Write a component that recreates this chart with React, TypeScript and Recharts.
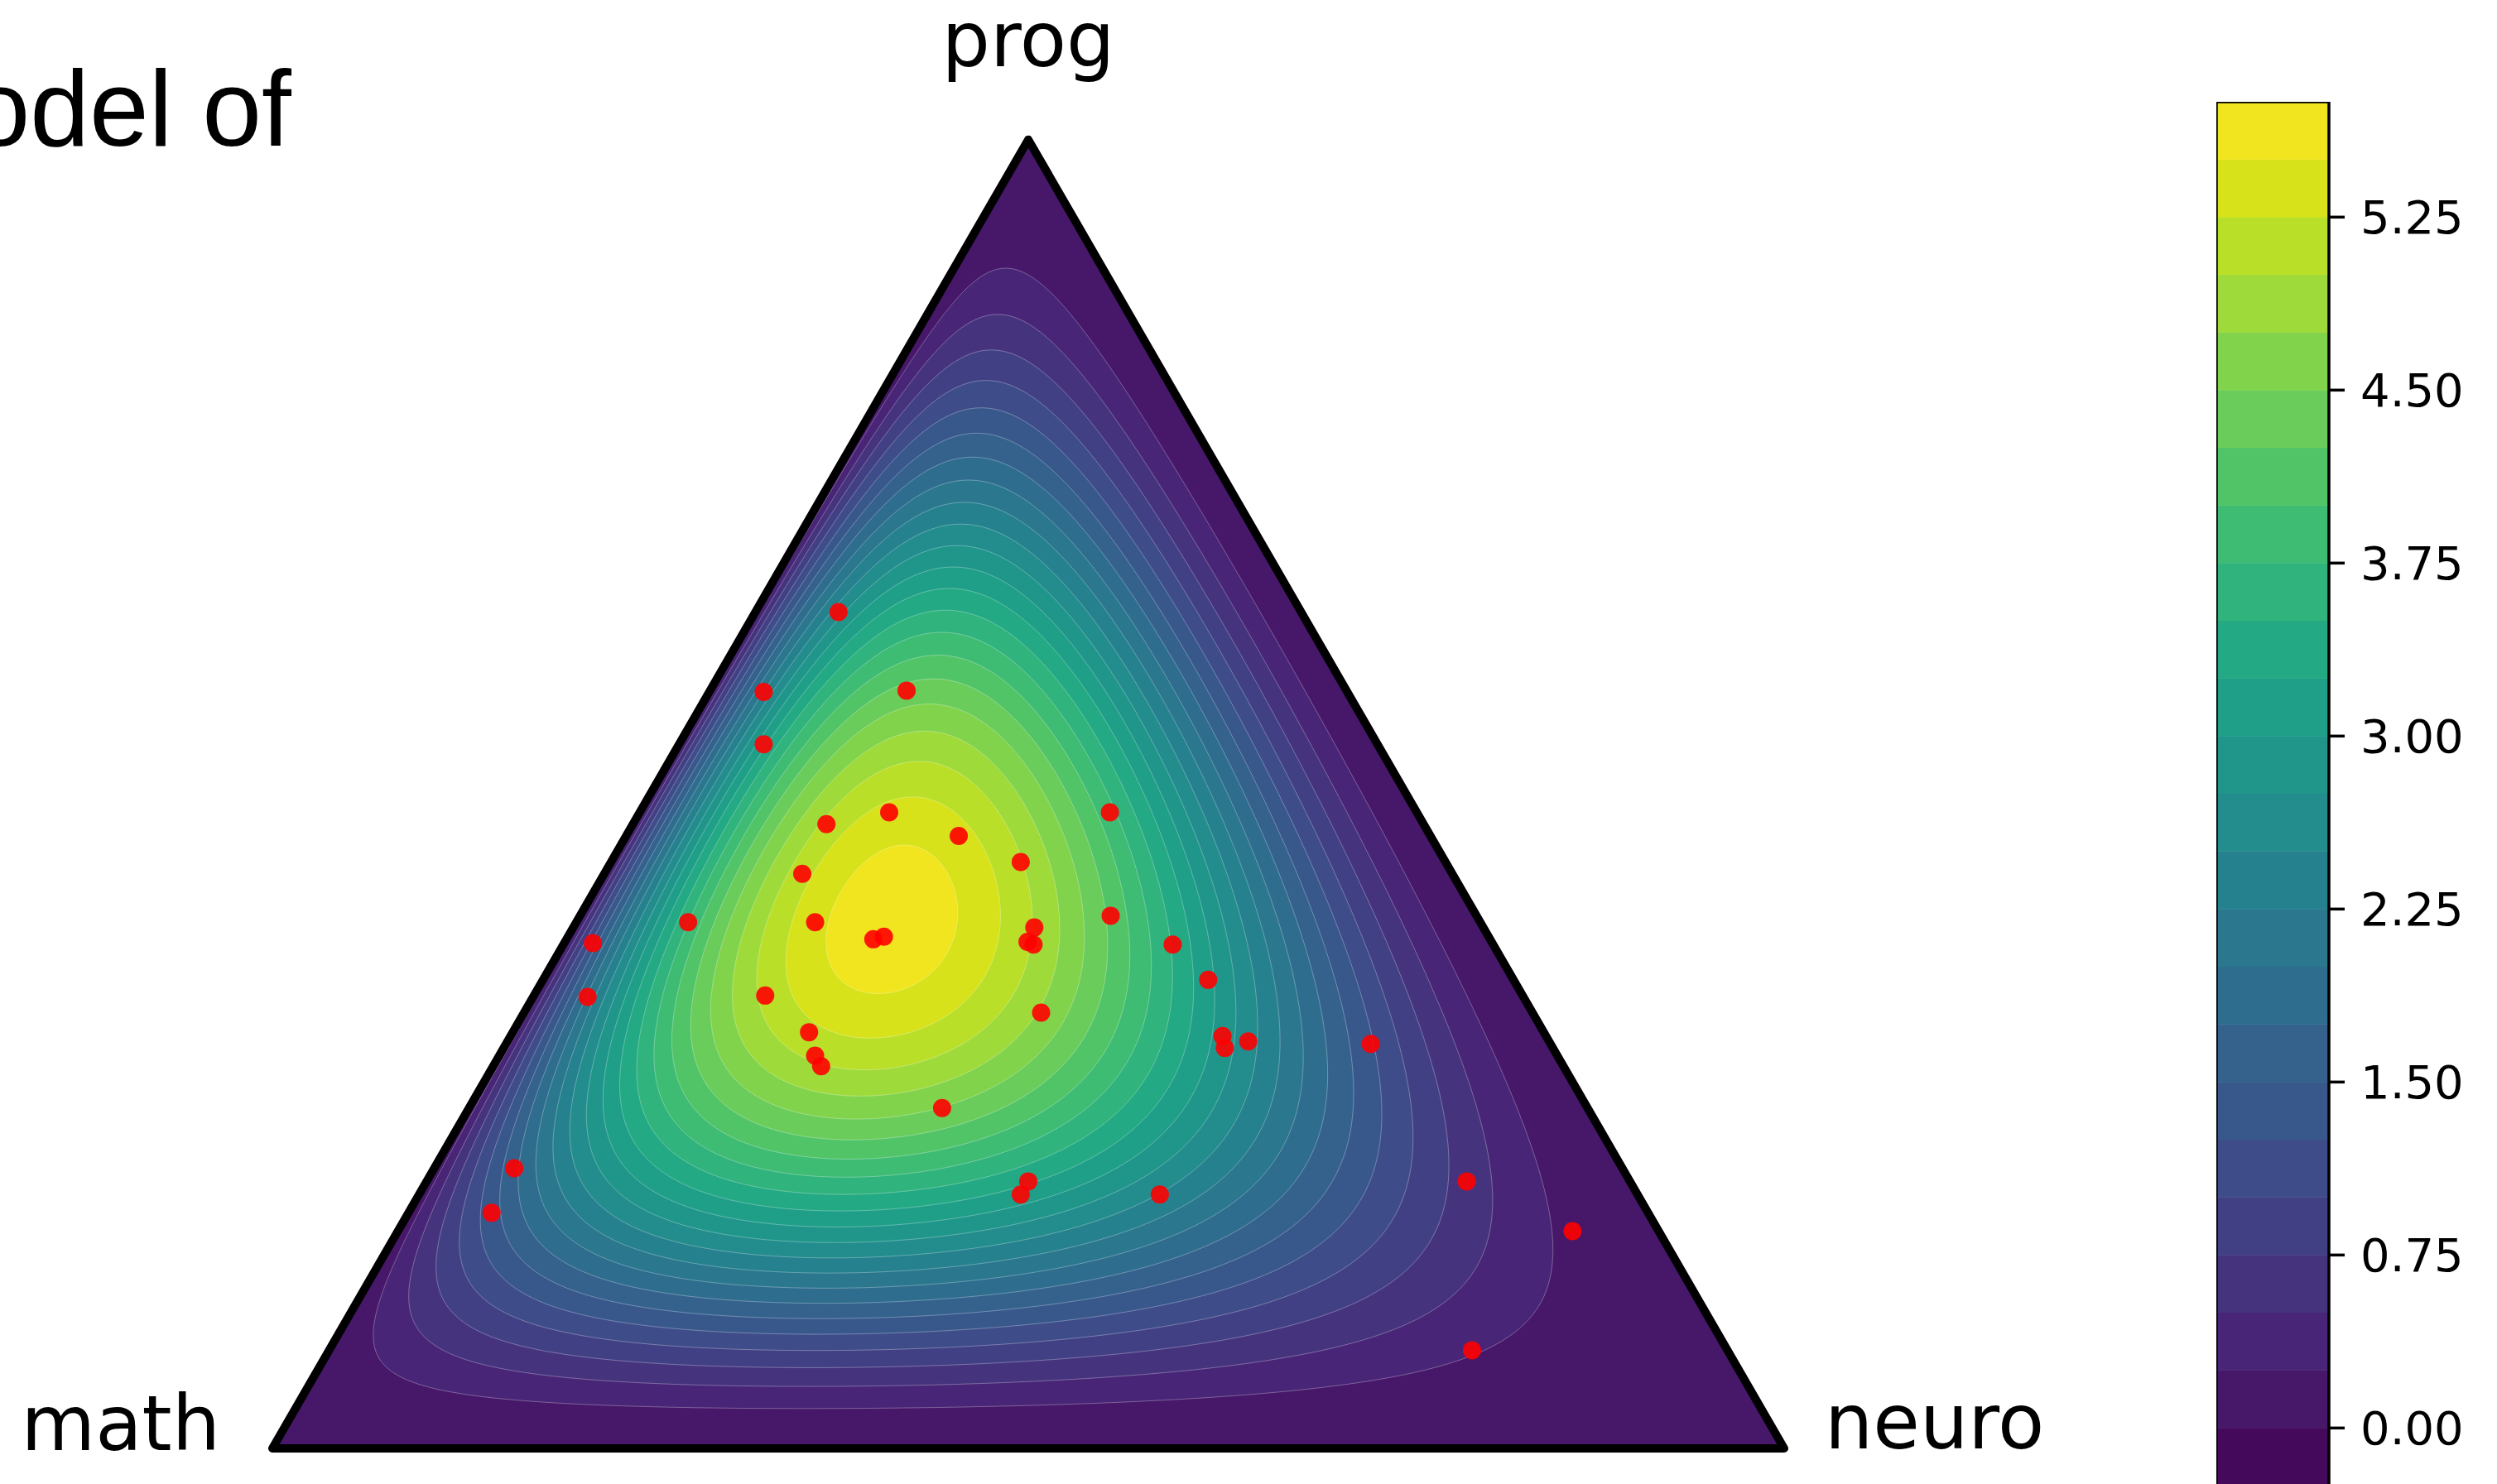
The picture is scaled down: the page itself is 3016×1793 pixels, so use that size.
import React from 'react';
import { ScatterChart, Scatter, XAxis, YAxis, ComposedChart, ReferenceArea, Line } from 'recharts';

// ---------- data ----------
const TITLE_TEXT = 'Model of';
const CORNER_LABELS = { top: 'prog', left: 'math', right: 'neuro' };

// ternary shares of the observed points (math, neuro, prog)
const MATH_SHARE = [0.306, 0.291, 0.386, 0.406, 0.203, 0.349, 0.395, 0.313, 0.281, 0.430, 0.241, 0.524, 0.440, 0.297, 0.307, 0.303, 0.408, 0.401, 0.595, 0.212, 0.203, 0.619, 0.501, 0.325, 0.214, 0.217, 0.199, 0.119, 0.487, 0.492, 0.491, 0.427, 0.733, 0.399, 0.408, 0.316, 0.108, 0.765, 0.057, 0.169];
const NEURO_SHARE = [0.055, 0.130, 0.036, 0.056, 0.311, 0.165, 0.128, 0.220, 0.271, 0.131, 0.351, 0.074, 0.158, 0.305, 0.306, 0.311, 0.203, 0.209, 0.019, 0.403, 0.440, 0.036, 0.153, 0.342, 0.471, 0.477, 0.490, 0.572, 0.196, 0.209, 0.217, 0.313, 0.053, 0.398, 0.398, 0.490, 0.688, 0.055, 0.777, 0.756];
const PROG_SHARE = [0.639, 0.579, 0.578, 0.538, 0.486, 0.486, 0.477, 0.468, 0.448, 0.439, 0.407, 0.402, 0.402, 0.398, 0.387, 0.385, 0.389, 0.391, 0.386, 0.385, 0.358, 0.345, 0.346, 0.333, 0.315, 0.306, 0.311, 0.309, 0.318, 0.300, 0.292, 0.260, 0.214, 0.204, 0.194, 0.194, 0.204, 0.180, 0.166, 0.075];

// Dirichlet concentration of the model (math, neuro, prog)
const ALPHA = [2.614, 1.861, 2.673];

// contour levels and colourbar ticks
const LEVELS = [-0.25, 0, 0.25, 0.5, 0.75, 1, 1.25, 1.5, 1.75, 2, 2.25, 2.5, 2.75, 3, 3.25, 3.5, 3.75, 4, 4.25, 4.5, 4.75, 5, 5.25, 5.5, 5.75];
const CBAR_TICKS = [0, 0.75, 1.5, 2.25, 3, 3.75, 4.5, 5.25];

// ---------- colour map ----------
const VIRIDIS_STOPS: [number, string][] = [
  [0, '#440154'], [0.05, '#471365'], [0.1, '#482475'], [0.1429, '#46327e'], [0.2, '#414487'],
  [0.25, '#3b528b'], [0.2857, '#365c8d'], [0.3, '#355f8d'], [0.375, '#2c728e'], [0.4, '#2a788e'],
  [0.4286, '#277f8e'], [0.5, '#21918c'], [0.5714, '#1fa187'], [0.6, '#22a884'], [0.625, '#28ae80'],
  [0.7, '#44bf70'], [0.7143, '#4ac16d'], [0.75, '#5ec962'], [0.8, '#7ad151'], [0.8571, '#a0da39'],
  [0.875, '#addc30'], [0.9, '#bddf26'], [0.95, '#dfe318'], [1, '#fde725'],
];
function hexToRgb(h: string) {
  return [parseInt(h.slice(1, 3), 16), parseInt(h.slice(3, 5), 16), parseInt(h.slice(5, 7), 16)];
}
function viridis(t: number) {
  for (let i = 0; i < VIRIDIS_STOPS.length - 1; i++) {
    const [t0, c0] = VIRIDIS_STOPS[i];
    const [t1, c1] = VIRIDIS_STOPS[i + 1];
    if (t >= t0 && t <= t1) {
      const f = (t - t0) / (t1 - t0);
      const a = hexToRgb(c0), b = hexToRgb(c1);
      const c = a.map((v, k) => Math.round(v + (b[k] - v) * f));
      return `rgb(${c[0]},${c[1]},${c[2]})`;
    }
  }
  return VIRIDIS_STOPS[VIRIDIS_STOPS.length - 1][1];
}
const NB = LEVELS.length - 1;
const BAND_COLORS = LEVELS.slice(0, NB).map((_, i) => viridis((i + 0.5) / NB));

// ---------- model ----------
const LANCZOS = [0.99999999999980993, 676.5203681218851, -1259.1392167224028, 771.32342877765313, -176.61502916214059, 12.507343278686905, -0.13857109526572012, 9.9843695780195716e-6, 1.5056327351493116e-7];
function lnGamma(z: number): number {
  if (z < 0.5) return Math.log(Math.PI / Math.sin(Math.PI * z)) - lnGamma(1 - z);
  z -= 1;
  let x = LANCZOS[0];
  for (let i = 1; i < 9; i++) x += LANCZOS[i] / (z + i);
  const t = z + 7.5;
  return 0.5 * Math.log(2 * Math.PI) + (z + 0.5) * Math.log(t) - t + Math.log(x);
}
const ASUM = ALPHA[0] + ALPHA[1] + ALPHA[2];
const LOGC = lnGamma(ASUM) - lnGamma(ALPHA[0]) - lnGamma(ALPHA[1]) - lnGamma(ALPHA[2]);
const H = Math.sqrt(3) / 2;

function toCart(math: number, neuro: number, prog: number) {
  return { x: neuro + prog / 2, y: prog * H };
}
function logPdfCart(x: number, y: number) {
  const p = y / H;
  const n = x - p / 2;
  const m = 1 - n - p;
  if (m <= 0 || n <= 0 || p <= 0) return -Infinity;
  return LOGC + (ALPHA[0] - 1) * Math.log(m) + (ALPHA[1] - 1) * Math.log(n) + (ALPHA[2] - 1) * Math.log(p);
}
const MODE = toCart(
  (ALPHA[0] - 1) / (ASUM - 3),
  (ALPHA[1] - 1) / (ASUM - 3),
  (ALPHA[2] - 1) / (ASUM - 3)
);
const LOG_MAX = logPdfCart(MODE.x, MODE.y);

function contour(level: number) {
  const lv = Math.log(level);
  const pts: { x: number; y: number }[] = [];
  const N = 720;
  for (let k = 0; k < N; k++) {
    const th = (2 * Math.PI * k) / N;
    const dx = Math.cos(th), dy = Math.sin(th);
    let lo = 0, hi = 1.3;
    for (let it = 0; it < 46; it++) {
      const mid = (lo + hi) / 2;
      if (logPdfCart(MODE.x + dx * mid, MODE.y + dy * mid) >= lv) lo = mid; else hi = mid;
    }
    pts.push({ x: MODE.x + dx * lo, y: MODE.y + dy * lo });
  }
  return pts;
}

const TRIANGLE = [toCart(1, 0, 0), toCart(0, 1, 0), toCart(0, 0, 1)];
const CONTOURS = LEVELS.map((lv, i) => ({ lv, i }))
  .filter(({ lv, i }) => i >= 2 && i < NB && Math.log(lv) < LOG_MAX)
  .map(({ lv, i }) => ({ level: lv, color: BAND_COLORS[i], pts: contour(lv) }));

const POINTS = MATH_SHARE.map((m, i) => toCart(m, NEURO_SHARE[i], PROG_SHARE[i]));

// ---------- rendering helpers ----------
const NoShape = () => <g />;
const polygonLine = (fill: string, stroke: string, strokeWidth: number, strokeOpacity: number) => (props: any) => {
  const pts = (props.points || []).map((p: any) => `${p.x},${p.y}`).join(' ');
  return (
    <polygon points={pts} fill={fill} stroke={stroke} strokeWidth={strokeWidth}
      strokeOpacity={strokeOpacity} strokeLinejoin="round" />
  );
};
const DotShape = (props: any) => (
  <circle cx={props.cx} cy={props.cy} r={11} fill="#ff0000" fillOpacity={0.9} />
);

const W = 3016;
const HT = 1793;
const PX_PER_UNIT = 1826;
const ORIGIN_X = 329;
const ORIGIN_Y = 1750;

export default function App() {
  const xDomain = [-ORIGIN_X / PX_PER_UNIT, (W - ORIGIN_X) / PX_PER_UNIT];
  const yDomain = [-(HT - ORIGIN_Y) / PX_PER_UNIT, ORIGIN_Y / PX_PER_UNIT];
  const cbarData = [{ x: 0, v: 0 }, { x: 1, v: 0 }];
  return (
    <div style={{ position: 'fixed', left: 0, top: 0, width: W, height: HT, overflow: 'hidden', background: '#fff' }}>
      <div style={{ position: 'absolute', left: 0, top: 0 }}>
        <ScatterChart width={W} height={HT} margin={{ top: 0, right: 0, bottom: 0, left: 0 }}>
          <XAxis type="number" dataKey="x" domain={xDomain} allowDataOverflow hide />
          <YAxis type="number" dataKey="y" domain={yDomain} allowDataOverflow hide />
          <Scatter data={TRIANGLE} shape={NoShape} line={polygonLine(BAND_COLORS[1], 'none', 0, 0)}
            isAnimationActive={false} />
          {CONTOURS.map((c) => (
            <Scatter key={c.level} data={c.pts} shape={NoShape}
              line={polygonLine(c.color, '#ffffff', 1, 0.3)} isAnimationActive={false} />
          ))}
          <Scatter data={TRIANGLE} shape={NoShape} line={polygonLine('none', '#000000', 10, 1)}
            isAnimationActive={false} />
          <Scatter data={POINTS} shape={DotShape} isAnimationActive={false} />
        </ScatterChart>
      </div>
      <div style={{ position: 'absolute', left: 2677, top: 123 }}>
        <ComposedChart width={386} height={1672} data={cbarData} margin={{ top: 0, right: 0, bottom: 0, left: 0 }}>
          <XAxis type="number" dataKey="x" domain={[0, 1]} allowDataOverflow hide />
          <YAxis type="number" orientation="right" domain={[LEVELS[0], LEVELS[LEVELS.length - 1]]}
            allowDataOverflow ticks={CBAR_TICKS} interval={0} width={250} tickSize={19} tickMargin={19}
            axisLine={false} tickLine={{ stroke: '#000', strokeWidth: 3.5 }}
            tick={{ fill: '#000', fontSize: 56, fontFamily: 'DejaVu Sans' }}
            tickFormatter={(v: number) => v.toFixed(2)} />
          <Line dataKey="v" stroke="transparent" dot={false} isAnimationActive={false} />
          {BAND_COLORS.map((col, i) => (
            <ReferenceArea key={i} x1={0} x2={1} y1={LEVELS[i]} y2={LEVELS[i + 1]}
              fill={col} fillOpacity={1} stroke={col} strokeWidth={0.5} />
          ))}
          <ReferenceArea x1={0} x2={1} y1={LEVELS[0]} y2={LEVELS[LEVELS.length - 1]}
            fill="none" fillOpacity={0} stroke="#000" strokeWidth={3.5} />
        </ComposedChart>
      </div>
      <svg width={W} height={HT} style={{ position: 'absolute', left: 0, top: 0, pointerEvents: 'none' }}>
        <text x={-143} y={176} fontFamily="Liberation Sans" fontSize={129} fill="#000">{TITLE_TEXT}</text>
        <text x={1242} y={80} textAnchor="middle" fontFamily="DejaVu Sans" fontSize={92} fill="#000">{CORNER_LABELS.top}</text>
        <text x={266} y={1752} textAnchor="end" fontFamily="DejaVu Sans" fontSize={92} fill="#000">{CORNER_LABELS.left}</text>
        <text x={2204} y={1750} textAnchor="start" fontFamily="DejaVu Sans" fontSize={92} fill="#000">{CORNER_LABELS.right}</text>
      </svg>
    </div>
  );
}
